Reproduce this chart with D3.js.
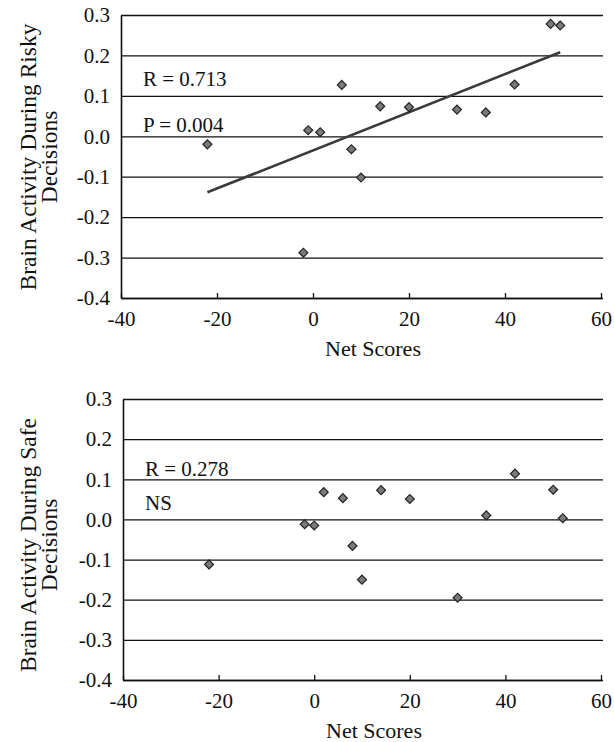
<!DOCTYPE html>
<html>
<head>
<meta charset="utf-8">
<script src="https://cdn.jsdelivr.net/npm/d3@7"></script>
<style>
  html, body { margin: 0; padding: 0; background: #fff; }
  svg { display: block; font-family: "Liberation Serif", "Times New Roman", serif; }
</style>
</head>
<body>
<svg id="chart" width="614" height="742"></svg>
<script>
// ---- data ----
const xTicks = [-40, -20, 0, 20, 40, 60];
const xTickLabels = ["-40", "-20", "0", "20", "40", "60"];
const yTicks = [0.3, 0.2, 0.1, 0.0, -0.1, -0.2, -0.3, -0.4];
const yTickLabels = ["0.3", "0.2", "0.1", "0.0", "-0.1", "-0.2", "-0.3", "-0.4"];

const riskyNetScores = [-22, -1, 1.5, 6, 8, 14, 20, 30, 36, 42, 49.5, 51.5, 10, -2];
const riskyActivity  = [-0.02, 0.015, 0.01, 0.127, -0.032, 0.074, 0.072, 0.066, 0.059, 0.128, 0.278, 0.274, -0.102, -0.288];

const safeNetScores = [-22, -2, 0, 2, 6, 8, 10, 14, 20, 30, 36, 42, 50, 52];
const safeActivity  = [-0.112, -0.012, -0.015, 0.068, 0.053, -0.066, -0.15, 0.073, 0.051, -0.195, 0.01, 0.114, 0.074, 0.003];

const xTitle = "Net Scores";
const riskyTitle = ["Brain Activity During Risky", "Decisions"];
const safeTitle = ["Brain Activity During Safe", "Decisions"];
const riskyNotes = ["R = 0.713", "P = 0.004"];
const safeNotes = ["R = 0.278", "NS"];

const svg = d3.select("#chart");
const FONT = "Liberation Serif";

function drawPanel(cfg) {
  const g = svg.append("g");
  const x = d3.scaleLinear().domain([-40, 60]).range([cfg.left, cfg.right]);
  const y = d3.scaleLinear().domain([-0.4, 0.3]).range([cfg.bottom, cfg.top]);
  const w = cfg.right - cfg.left;

  // y axis with gridlines
  const yAxis = g.append("g")
    .attr("transform", `translate(${cfg.left},0)`)
    .call(d3.axisLeft(y).tickValues(yTicks)
      .tickFormat((d, i) => yTickLabels[i])
      .tickSizeInner(-w - 2).tickSizeOuter(0).tickPadding(11));
  yAxis.attr("font-family", FONT);
  yAxis.selectAll("line").attr("stroke", "#111").attr("stroke-width", 1.3);
  yAxis.select(".domain").attr("stroke", "#111").attr("stroke-width", 1.6);
  yAxis.selectAll("text").attr("font-size", 21).attr("fill", "#111")
    .attr("font-family", FONT);

  // x axis
  const xAxis = g.append("g")
    .attr("transform", `translate(0,${cfg.bottom})`)
    .call(d3.axisBottom(x).tickValues(xTicks)
      .tickFormat((d, i) => xTickLabels[i])
      .tickSizeInner(-5).tickSizeOuter(0).tickPadding(13));
  xAxis.attr("font-family", FONT);
  xAxis.selectAll("line").attr("stroke", "#111").attr("stroke-width", 1.3);
  xAxis.select(".domain").attr("stroke", "#111").attr("stroke-width", 1.6);
  xAxis.selectAll("text").attr("font-size", 21).attr("fill", "#111")
    .attr("font-family", FONT);

  // x title
  g.append("text")
    .attr("x", (cfg.left + cfg.right) / 2 + 12)
    .attr("y", cfg.bottom + 58)
    .attr("text-anchor", "middle")
    .attr("font-family", FONT)
    .attr("font-size", 22).attr("fill", "#111")
    .text(xTitle);

  // y title (two lines, rotated)
  const cy = cfg.titleCY;
  const yt = g.append("text")
    .attr("transform", `translate(36,${cy}) rotate(-90)`)
    .attr("text-anchor", "middle")
    .attr("font-family", FONT)
    .attr("font-size", 23.5).attr("fill", "#111");
  yt.append("tspan").attr("x", 0).attr("y", 0).text(cfg.title[0]);
  yt.append("tspan").attr("x", 0).attr("y", 21).text(cfg.title[1]);

  // annotations
  cfg.notes.forEach((t, i) => {
    g.append("text")
      .attr("x", cfg.left + 22)
      .attr("y", cfg.noteY[i])
      .attr("font-family", FONT)
      .attr("font-size", 21).attr("fill", "#111")
      .text(t);
  });

  const pts = cfg.xs.map((v, i) => [v, cfg.ys[i]]);

  // regression trend line
  if (cfg.trend) {
    const mx = d3.mean(cfg.xs), my = d3.mean(cfg.ys);
    const sxy = d3.sum(pts, p => (p[0] - mx) * (p[1] - my));
    const sxx = d3.sum(pts, p => (p[0] - mx) * (p[0] - mx));
    const b = sxy / sxx, a = my - b * mx;
    const [x0, x1] = d3.extent(cfg.xs);
    g.append("path")
      .attr("d", d3.line().x(d => x(d[0])).y(d => y(d[1]))([[x0, a + b * x0], [x1, a + b * x1]]))
      .attr("stroke", "#3a3a3a").attr("stroke-width", 2.6).attr("fill", "none");
  }

  // diamond markers
  g.append("g").selectAll("path").data(pts).join("path")
    .attr("transform", d => `translate(${x(d[0])},${y(d[1])}) rotate(45)`)
    .attr("d", d3.symbol().type(d3.symbolSquare).size(40))
    .attr("fill", "#7a7a7a").attr("stroke", "#222").attr("stroke-width", 1.2);
}

drawPanel({
  left: 121, right: 601, top: 15, bottom: 298,
  xs: riskyNetScores, ys: riskyActivity, trend: true,
  title: riskyTitle, titleCY: 157,
  notes: riskyNotes, noteY: [86, 132]
});

drawPanel({
  left: 123, right: 601, top: 399, bottom: 680,
  xs: safeNetScores, ys: safeActivity, trend: false,
  title: safeTitle, titleCY: 545,
  notes: safeNotes, noteY: [476, 510]
});
</script>
</body>
</html>
